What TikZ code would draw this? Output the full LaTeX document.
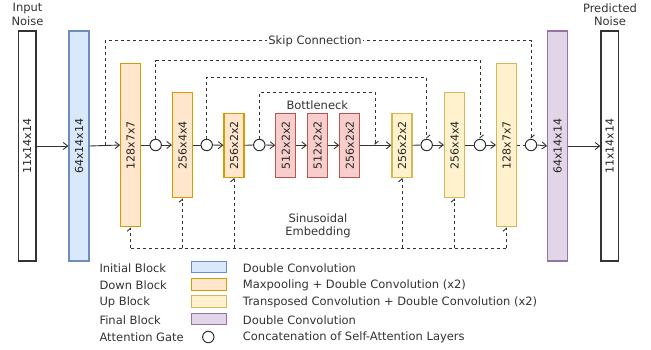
\documentclass[tikz,border=0pt]{standalone}
\usepackage{fontspec}
\setmainfont{DejaVu Sans}
\usepackage{graphicx}
\usetikzlibrary{arrows.meta}
\definecolor{bluef}{HTML}{DAE8FC}\definecolor{blued}{HTML}{6C8EBF}
\definecolor{orangef}{HTML}{FFE6CC}\definecolor{oranged}{HTML}{D79B00}
\definecolor{yellowf}{HTML}{FFF2CC}\definecolor{yellowd}{HTML}{D6B656}
\definecolor{purplef}{HTML}{E1D5E7}\definecolor{purpled}{HTML}{9673A6}
\definecolor{redf}{HTML}{F8CECC}\definecolor{redd}{HTML}{B85450}
\definecolor{ink}{HTML}{333333}
\begin{document}
\begin{tikzpicture}[x=1pt,y=-1pt,
  font=\fontsize{11.5}{13.5}\selectfont, text=ink,
  blk/.style={draw, line width=1.1pt, minimum width=20pt, inner sep=0pt, text=black!85, font=\fontsize{11}{12}\selectfont},
  ioblk/.style={blk, draw=ink, fill=white, minimum width=17.5pt, minimum height=230pt},
  initblk/.style={blk, draw=blued, fill=bluef, minimum height=230pt},
  downblk/.style={blk, draw=oranged, fill=orangef},
  upblk/.style={blk, draw=yellowd, fill=yellowf},
  finblk/.style={blk, draw=purpled, fill=purplef, minimum height=230pt},
  botblk/.style={blk, draw=redd, fill=redf, minimum height=64pt},
  gate/.style={circle, draw=ink, fill=white, line width=1pt, minimum size=11.4pt, inner sep=0pt},
  flow/.style={draw=ink, line width=0.9pt, -{Straight Barb[length=4.5pt,width=7pt]}},
  plain/.style={draw=ink, line width=0.9pt},
  skip/.style={draw=ink, line width=0.9pt, dash pattern=on 3pt off 3pt},
  skiparr/.style={skip, -{Straight Barb[left,length=3pt,width=7pt]}},
  swatch/.style={draw, line width=1pt, minimum width=35pt, minimum height=11.5pt, inner sep=0pt},
  lgd/.style={anchor=west, inner sep=0pt}
]
\useasboundingbox (0,0) rectangle (651,349);

% blocks
\node[ioblk] (inp) at (27.2,146) {\rotatebox{90}{11x14x14}};
\node[initblk] (init) at (79,146) {\rotatebox{90}{64x14x14}};
\node[downblk, minimum height=163.4pt] (d1) at (130.7,145) {\rotatebox{90}{128x7x7}};
\node[downblk, minimum height=105.4pt] (d2) at (182.5,145) {\rotatebox{90}{256x4x4}};
\node[downblk, minimum height=64pt] (d3) at (234,145.3) {\rotatebox{90}{256x2x2}};
\node[botblk] (b1) at (285.8,145.3) {\rotatebox{90}{512x2x2}};
\node[botblk] (b2) at (317.5,145.3) {\rotatebox{90}{512x2x2}};
\node[botblk] (b3) at (349.8,145.3) {\rotatebox{90}{256x2x2}};
\node[upblk, minimum height=64pt] (u1) at (402,145.3) {\rotatebox{90}{256x2x2}};
\node[upblk, minimum height=105.4pt] (u2) at (454.5,145) {\rotatebox{90}{256x4x4}};
\node[upblk, minimum height=163.4pt] (u3) at (506.5,145) {\rotatebox{90}{128x7x7}};
\node[finblk] (fin) at (557.7,146) {\rotatebox{90}{64x14x14}};
\node[ioblk] (out) at (609.7,146) {\rotatebox{90}{11x14x14}};

% gates
\node[gate] (c1) at (155.7,145) {};
\node[gate] (c2) at (206.7,145) {};
\node[gate] (c3) at (259.3,145) {};
\node[gate] (c4) at (426.7,145) {};
\node[gate] (c5) at (480,145) {};
\node[gate] (c6) at (531,145) {};

% main flow
\draw[flow] (inp.east) -- (init.west);
\draw[flow] (init.east) -- (d1.west);
\draw[plain] (d1.east) -- (c1.west);
\draw[flow] (c1.east) -- (d2.west);
\draw[plain] (d2.east) -- (c2.west);
\draw[flow] (c2.east) -- (d3.west);
\draw[plain] (d3.east) -- (c3.west);
\draw[flow] (c3.east) -- (b1.west);
\draw[flow] (b1.east) -- (b2.west);
\draw[flow] (b2.east) -- (b3.west);
\draw[flow] (b3.east) -- (u1.west);
\draw[plain] (u1.east) -- (c4.west);
\draw[flow] (c4.east) -- (u2.west);
\draw[plain] (u2.east) -- (c5.west);
\draw[flow] (c5.east) -- (u3.west);
\draw[skip] (u3.east) -- (c6.west);
\draw[flow] (c6.east) -- (fin.west);
\draw[flow] (fin.east) -- (out.west);

% skip connections
\coordinate (k0) at (105,145);
\coordinate (k0t) at (105,40.7);
\draw[skiparr] (k0) -- (k0t) -| (c6.north);
\node[fill=white, inner sep=1.5pt] (skiplbl) at (315,41.5) {Skip Connection};
\draw[skiparr] (c1.north) |- (c5.north |- 0,60.7) -- (c5.north);
\draw[skiparr] (c2.north) |- (c4.north |- 0,77.3) -- (c4.north);
\coordinate (bn) at (375,145);
\draw[skiparr] (c3.north) |- (bn |- 0,92.3) -- (bn);
\node (bottlbl) at (317.3,105) {Bottleneck};

% embedding
\coordinate (embL) at (130.7,248.3);
\coordinate (embR) at (506.5,248.3);
\draw[skip] (embL) -- (embR);
\foreach \b in {d1,d2,d3,u1,u2,u3}{
  \draw[skiparr] (\b.south |- embL) -- (\b.south);
}
\node[align=center] (emblbl) at (318,226) {Sinusoidal\\Embedding};

% titles
\node[align=center] (inlbl) at (27.5,14.5) {Input\\Noise};
\node[align=center] (outlbl) at (610,14.5) {Predicted\\Noise};

% legend
\node[lgd] (l1) at (99.3,268.3) {Initial Block};
\node[lgd] (l2) at (99.3,285.5) {Down Block};
\node[lgd] (l3) at (99.3,302.7) {Up Block};
\node[lgd] (l4) at (99.3,320) {Final Block};
\node[lgd] (l5) at (99.3,337.5) {Attention Gate};
\node[swatch, draw=blued, fill=bluef] (sw1) at (209.3,267) {};
\node[swatch, draw=oranged, fill=orangef] (sw2) at (209.3,284.5) {};
\node[swatch, draw=yellowd, fill=yellowf] (sw3) at (209.3,301.7) {};
\node[swatch, draw=purpled, fill=purplef] (sw4) at (209.3,319) {};
\node[gate] (sw5) at (208.3,337) {};
\node[lgd] (t1) at (242.7,268.3) {Double Convolution};
\node[lgd] (t2) at (242.7,285.5) {Maxpooling + Double Convolution (x2)};
\node[lgd] (t3) at (242.7,302.7) {Transposed Convolution + Double Convolution (x2)};
\node[lgd] (t4) at (242.7,320) {Double Convolution};
\node[lgd] (t5) at (242.7,337.5) {Concatenation of Self-Attention Layers};
\end{tikzpicture}
\end{document}
